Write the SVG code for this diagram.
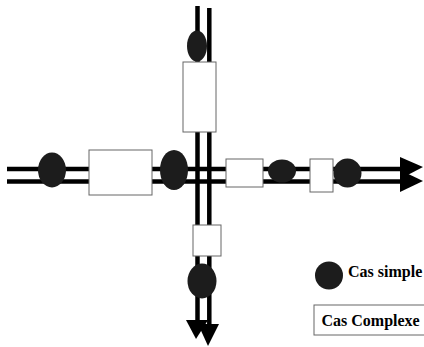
<svg xmlns="http://www.w3.org/2000/svg" width="424" height="347" viewBox="0 0 424 347">
<style>
.ln{stroke:#000;stroke-width:4.5;fill:none}
.el{fill:#1c1c1c}
.bx{fill:#fff;stroke:#666;stroke-width:1}
.tx{font-family:"Liberation Serif","Times New Roman",serif;font-weight:bold;font-size:16px;fill:#000}
.ah{fill:#000}
</style>
<rect width="424" height="347" fill="#fff"/>
<g id="connectors">
<line class="ln" x1="7" y1="169" x2="404" y2="169"/>
<line class="ln" x1="7" y1="181.5" x2="404" y2="181.5"/>
<line class="ln" x1="197.5" y1="6" x2="197.5" y2="322"/>
<line class="ln" x1="209.3" y1="8" x2="209.3" y2="326"/>
<polygon class="ah" points="400,157 423,167 400,179"/>
<polygon class="ah" points="400,170 423,181 400,192"/>
<polygon class="ah" points="186,320 208,320 196,339"/>
<polygon class="ah" points="198,324 219,324 208,346"/>
</g>
<g id="n1"><ellipse class="el" cx="197" cy="46" rx="10" ry="15.5"/></g>
<g id="n2"><rect class="bx" x="183" y="62" width="33" height="70"/></g>
<g id="n3"><ellipse class="el" cx="52" cy="170" rx="14" ry="17.5"/></g>
<g id="n4"><rect class="bx" x="89" y="150" width="63" height="45"/></g>
<g id="n5"><ellipse class="el" cx="174" cy="170" rx="14" ry="20"/></g>
<g id="n6"><rect class="bx" x="226" y="159" width="37" height="28"/></g>
<g id="n7"><ellipse class="el" cx="282" cy="171" rx="14" ry="11.5"/></g>
<g id="n8"><rect class="bx" x="310" y="159" width="23" height="33"/></g>
<g id="n9"><ellipse class="el" cx="347.5" cy="173" rx="14" ry="14.5"/></g>
<g id="n10"><rect class="bx" x="193" y="225" width="28" height="31"/></g>
<g id="n11"><ellipse class="el" cx="202" cy="281" rx="14.5" ry="17.5"/></g>
<g id="legend-simple">
<ellipse class="el" cx="329" cy="275.5" rx="14" ry="14"/>
<text class="tx" x="348" y="277">Cas simple</text>
</g>
<g id="legend-complexe">
<rect class="bx" x="314" y="305" width="114" height="30"/>
<text class="tx" x="321.5" y="326">Cas Complexe</text>
</g>
</svg>
